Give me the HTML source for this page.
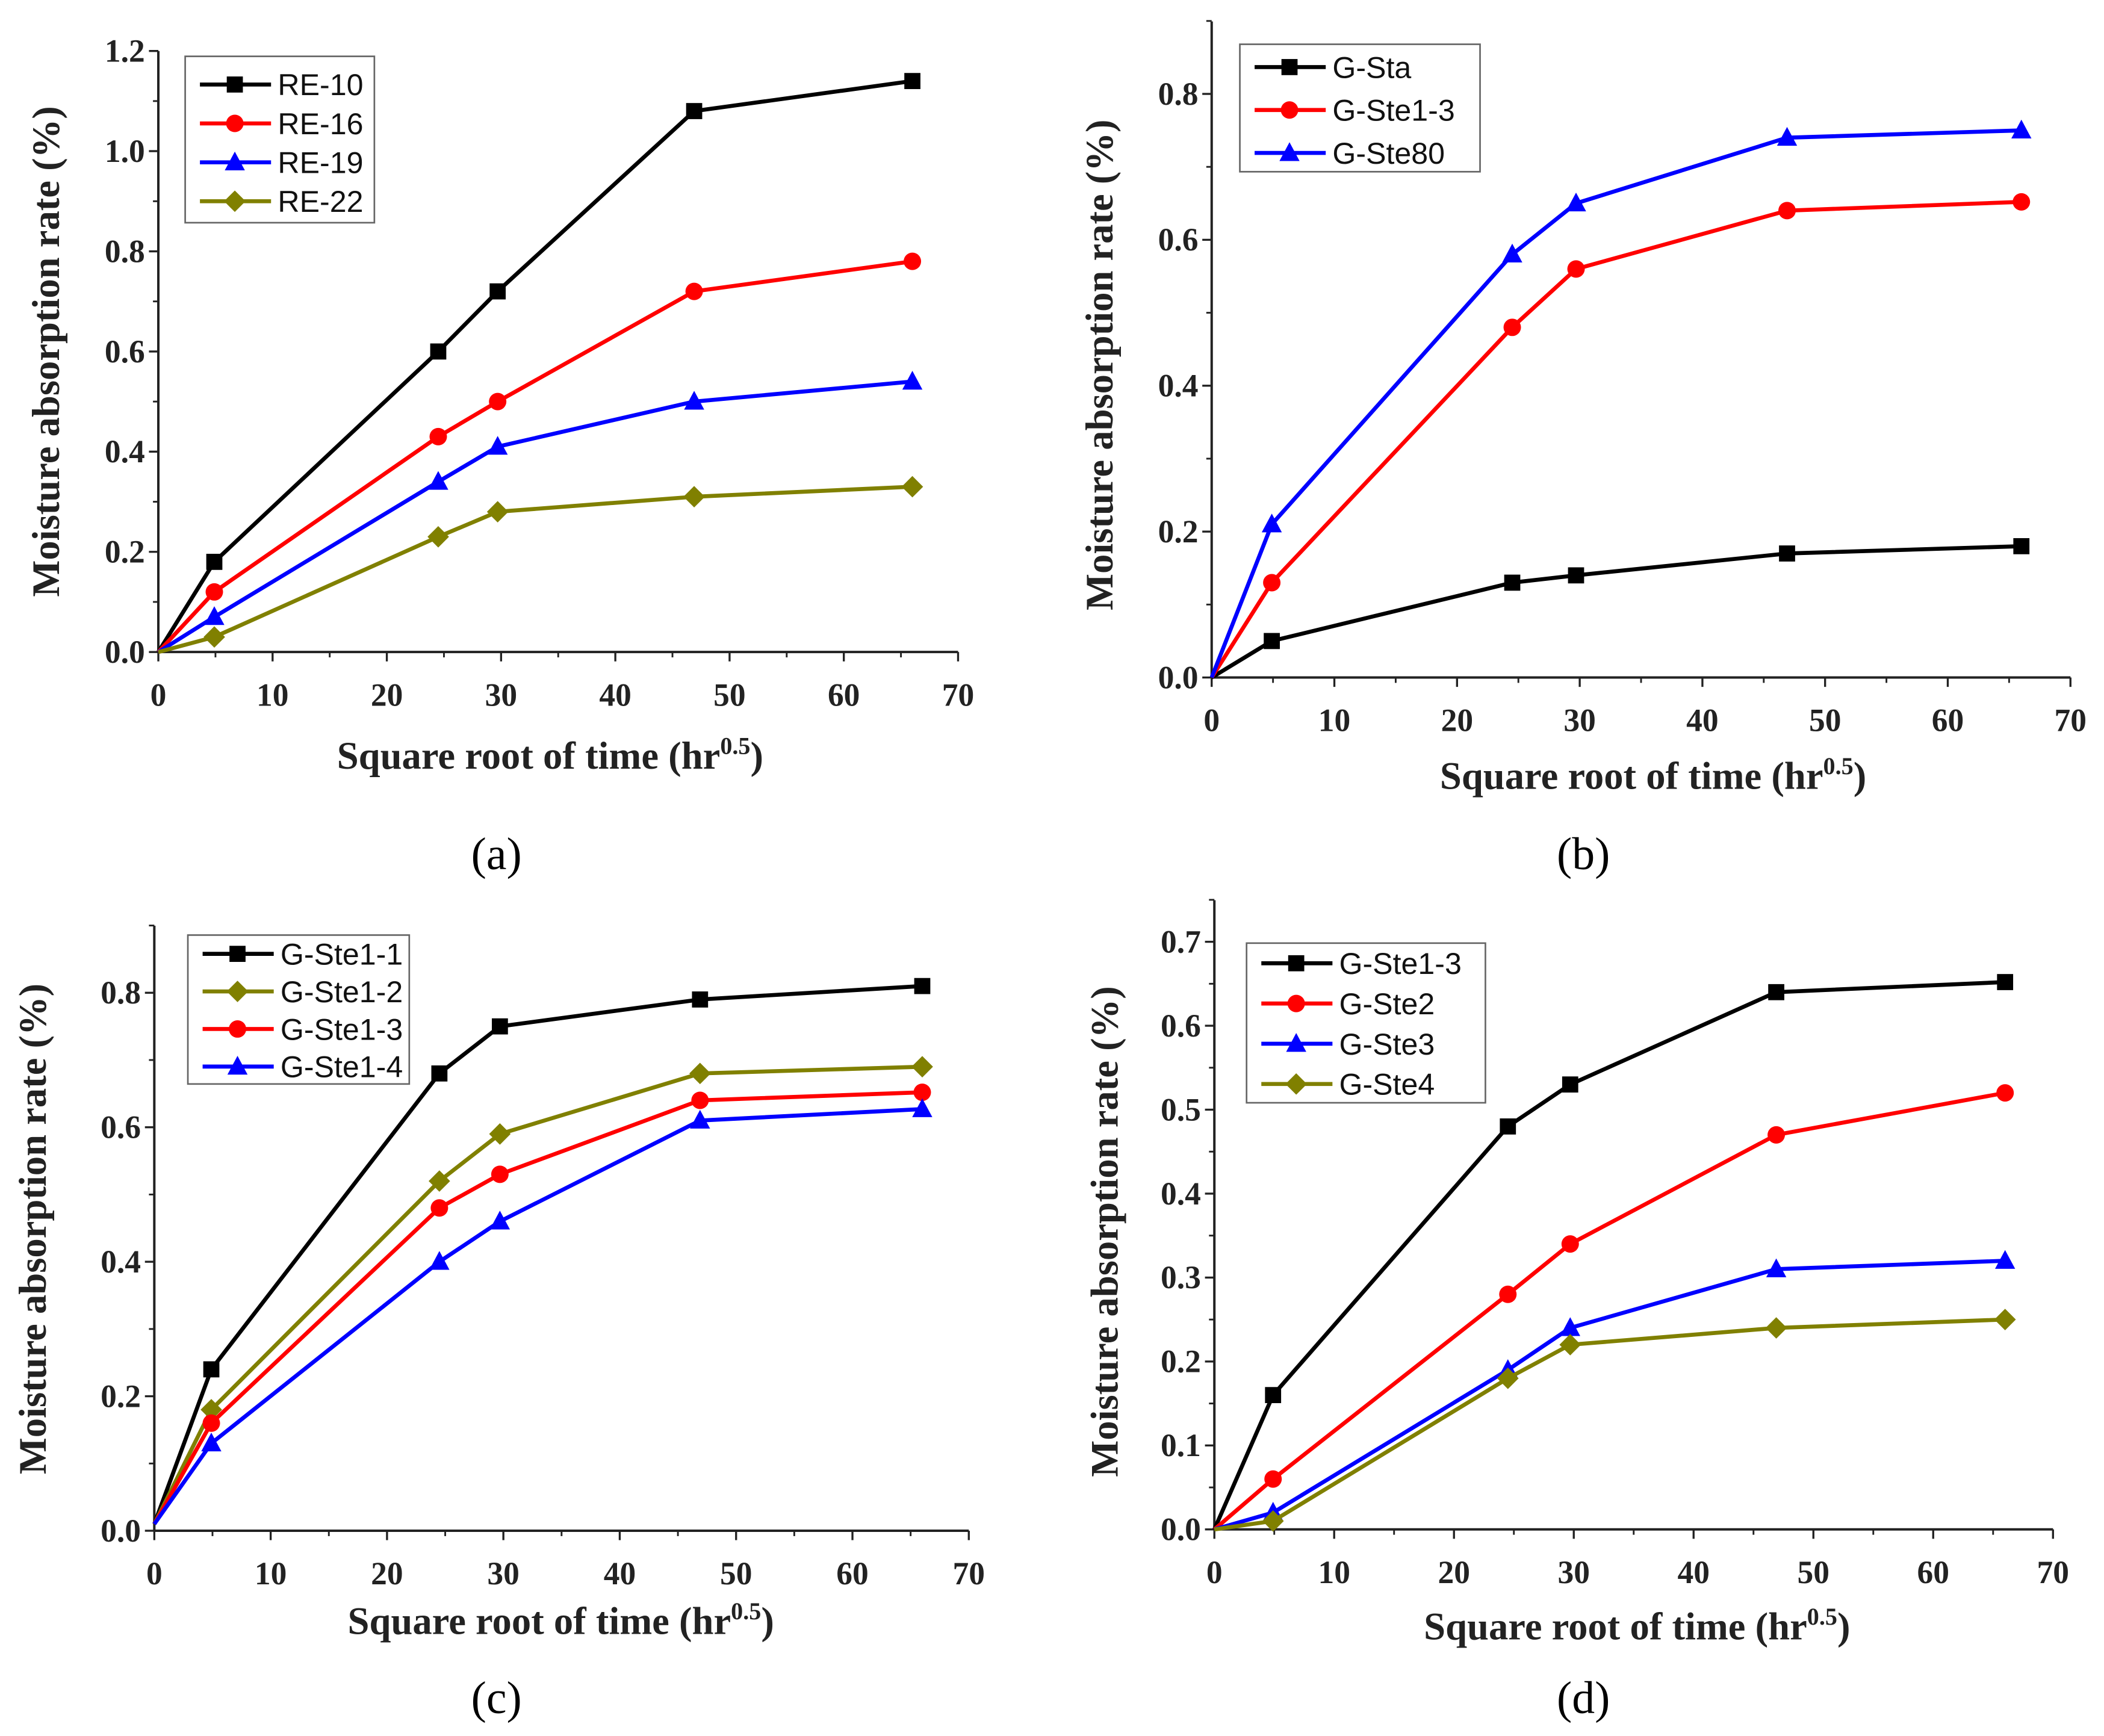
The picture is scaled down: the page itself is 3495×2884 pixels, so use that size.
<!DOCTYPE html>
<html><head><meta charset="utf-8">
<style>
html,body{margin:0;padding:0;background:#fff;}
svg{display:block;}
.tick{font-family:"Liberation Serif",serif;font-weight:bold;font-size:24px;fill:#222;}
.title{font-family:"Liberation Serif",serif;font-weight:bold;font-size:29px;fill:#222;}
.leg{font-family:"Liberation Sans",sans-serif;font-size:22.5px;fill:#111;}
.cap{font-family:"Liberation Serif",serif;font-size:34px;fill:#000;}
</style></head>
<body>
<svg id="fig" width="3495" height="2884" viewBox="0 0 1568 1294" preserveAspectRatio="none" xmlns="http://www.w3.org/2000/svg"></svg>
<script>
const xValues = [0, 4.9, 24.5, 29.7, 46.9, 66];
const xTicks = [0,10,20,30,40,50,60,70];

const aNames = ["RE-10","RE-16","RE-19","RE-22"];
const aRE10 = [0,0.18,0.60,0.72,1.08,1.14];
const aRE16 = [0,0.12,0.43,0.50,0.72,0.78];
const aRE19 = [0,0.07,0.34,0.41,0.50,0.54];
const aRE22 = [0,0.03,0.23,0.28,0.31,0.33];
const aYTicks = [0.0,0.2,0.4,0.6,0.8,1.0,1.2];

const bNames = ["G-Sta","G-Ste1-3","G-Ste80"];
const bSta = [0,0.05,0.13,0.14,0.17,0.18];
const bSte13 = [0,0.13,0.48,0.56,0.64,0.652];
const bSte80 = [0,0.21,0.58,0.65,0.74,0.75];
const bYTicks = [0.0,0.2,0.4,0.6,0.8];

const cNames = ["G-Ste1-1","G-Ste1-2","G-Ste1-3","G-Ste1-4"];
const cS11 = [0.01,0.24,0.68,0.75,0.79,0.81];
const cS12 = [0.01,0.18,0.52,0.59,0.68,0.69];
const cS13 = [0.01,0.16,0.48,0.53,0.64,0.652];
const cS14 = [0.01,0.13,0.40,0.46,0.61,0.627];
const cYTicks = [0.0,0.2,0.4,0.6,0.8];

const dNames = ["G-Ste1-3","G-Ste2","G-Ste3","G-Ste4"];
const dS13 = [0,0.16,0.48,0.53,0.64,0.652];
const dS2 = [0,0.06,0.28,0.34,0.47,0.52];
const dS3 = [0,0.02,0.19,0.24,0.31,0.32];
const dS4 = [0,0.01,0.18,0.22,0.24,0.25];
const dYTicks = [0.0,0.1,0.2,0.3,0.4,0.5,0.6,0.7];

const NS="http://www.w3.org/2000/svg";
const svg=document.getElementById('fig');
function mk(tag,attrs,parent,txt){const e=document.createElementNS(NS,tag);for(const k in attrs)e.setAttribute(k,attrs[k]);if(txt!==undefined)e.textContent=txt;(parent||svg).appendChild(e);return e;}

const BLACK="#000", RED="#ff0000", BLUE="#0000ff", OLIVE="#808000";

function marker(g,shape,x,y,color){
  let m;
  if(shape==='sq') m=mk('rect',{x:x-6,y:y-6,width:12,height:12,fill:color},g);
  else if(shape==='ci') m=mk('circle',{cx:x,cy:y,r:6.5,fill:color},g);
  else if(shape==='tr') m=mk('polygon',{points:`${x},${y-8} ${x+7.5},${y+6} ${x-7.5},${y+6}`,fill:color},g);
  else m=mk('polygon',{points:`${x},${y-8} ${x+8},${y} ${x},${y+8} ${x-8},${y}`,fill:color},g);
  
  
}

function panel(cfg){
  const g=mk('g',{});
  
  
  const xs=v=>cfg.x0+(cfg.x70-cfg.x0)*v/70;
  const ys=v=>cfg.y0-(cfg.y0-cfg.yT)*v/cfg.yTv;
  const ax=mk('line',{x1:cfg.x0,y1:cfg.y0,x2:cfg.x70,y2:cfg.y0,stroke:'#222','stroke-width':1.8},g);
  
  const ay=mk('line',{x1:cfg.x0,y1:cfg.y0,x2:cfg.x0,y2:cfg.yTop,stroke:'#222','stroke-width':1.8},g);
  
  xTicks.forEach((t,i)=>{
    const x=xs(t);
    mk('line',{x1:x,y1:cfg.y0,x2:x,y2:cfg.y0+7,stroke:'#222','stroke-width':1.5},g);
    if(i<xTicks.length-1) mk('line',{x1:xs(t+5),y1:cfg.y0,x2:xs(t+5),y2:cfg.y0+4,stroke:'#222','stroke-width':1.3},g);
    const tl=mk('text',{x:x,y:cfg.y0+40,'text-anchor':'middle',class:'tick'},g,String(t));
    
  });
  const step=cfg.yTicks[1]-cfg.yTicks[0];
  cfg.yTicks.forEach(t=>{
    const y=ys(t);
    mk('line',{x1:cfg.x0-7,y1:y,x2:cfg.x0,y2:y,stroke:'#222','stroke-width':1.5},g);
    const ym=ys(t+step/2);
    if(ym>cfg.yTop-1) mk('line',{x1:cfg.x0-4,y1:ym,x2:cfg.x0,y2:ym,stroke:'#222','stroke-width':1.3},g);
    const tl=mk('text',{x:cfg.x0-10,y:y+8,'text-anchor':'end',class:'tick'},g,t.toFixed(1));
    
  });
  const yt=mk('text',{x:cfg.ylx,y:cfg.yly,'text-anchor':'middle',class:'title',transform:`rotate(-90 ${cfg.ylx} ${cfg.yly})`},g,'Moisture absorption rate (%)');
  
  const xt=mk('text',{x:cfg.xlx,y:cfg.xly,'text-anchor':'middle',class:'title'},g);
  
  xt.appendChild(document.createTextNode('Square root of time (hr'));
  mk('tspan',{dy:-11,'font-size':18},xt,'0.5');
  mk('tspan',{dy:11},xt,')');
  const cap=mk('text',{x:cfg.capx,y:cfg.capy,'text-anchor':'middle',class:'cap'},g,'('+cfg.id+')');
  
  cfg.series.forEach(s=>{
    const pts=xValues.map((xv,i)=>xs(xv)+','+ys(s.v[i])).join(' ');
    const pl=mk('polyline',{points:pts,fill:'none',stroke:s.c,'stroke-width':3},g);
    
    xValues.forEach((xv,i)=>{ if(i>0) marker(g,s.m,xs(xv),ys(s.v[i]),s.c); });
  });
  const L=cfg.leg;
  const lg=mk('g',{},g);
  
  mk('rect',{x:L.x,y:L.y,width:L.w,height:L.h,fill:'#fff',stroke:'#666','stroke-width':1.2},lg);
  cfg.series.forEach((s,i)=>{
    const y=L.y+L.first+i*L.gap;
    mk('line',{x1:L.x+11,y1:y,x2:L.x+64,y2:y,stroke:s.c,'stroke-width':3},lg);
    marker(lg,s.m,L.x+37,y,s.c);
    const t=mk('text',{x:L.x+69,y:y+8,class:'leg'},lg,s.n);
    
  });
}

panel({id:'a',x0:118,x70:714,y0:486,yT:38,yTv:1.2,yTop:38,yTicks:aYTicks,
  ylx:44,yly:262,xlx:410,xly:573,capx:370,capy:648,
  leg:{x:138,y:42,w:141,h:124,first:21,gap:29},
  series:[{n:aNames[0],v:aRE10,c:BLACK,m:'sq'},{n:aNames[1],v:aRE16,c:RED,m:'ci'},{n:aNames[2],v:aRE19,c:BLUE,m:'tr'},{n:aNames[3],v:aRE22,c:OLIVE,m:'di'}]});
panel({id:'b',x0:903,x70:1543,y0:505,yT:70,yTv:0.8,yTop:16,yTicks:bYTicks,
  ylx:829,yly:272,xlx:1232,xly:588,capx:1180,capy:648,
  leg:{x:924,y:33,w:179,h:95,first:17,gap:32},
  series:[{n:bNames[0],v:bSta,c:BLACK,m:'sq'},{n:bNames[1],v:bSte13,c:RED,m:'ci'},{n:bNames[2],v:bSte80,c:BLUE,m:'tr'}]});
panel({id:'c',x0:115,x70:722,y0:1141,yT:740,yTv:0.8,yTop:690,yTicks:cYTicks,
  ylx:34,yly:916,xlx:418,xly:1218,capx:370,capy:1277,
  leg:{x:140,y:697,w:165,h:111,first:14,gap:28},
  series:[{n:cNames[0],v:cS11,c:BLACK,m:'sq'},{n:cNames[1],v:cS12,c:OLIVE,m:'di'},{n:cNames[2],v:cS13,c:RED,m:'ci'},{n:cNames[3],v:cS14,c:BLUE,m:'tr'}]});
panel({id:'d',x0:905,x70:1530,y0:1140,yT:702,yTv:0.7,yTop:671,yTicks:dYTicks,
  ylx:833,yly:918,xlx:1220,xly:1222,capx:1180,capy:1277,
  leg:{x:929,y:703,w:178,h:119,first:15,gap:30},
  series:[{n:dNames[0],v:dS13,c:BLACK,m:'sq'},{n:dNames[1],v:dS2,c:RED,m:'ci'},{n:dNames[2],v:dS3,c:BLUE,m:'tr'},{n:dNames[3],v:dS4,c:OLIVE,m:'di'}]});
</script>
</body></html>
